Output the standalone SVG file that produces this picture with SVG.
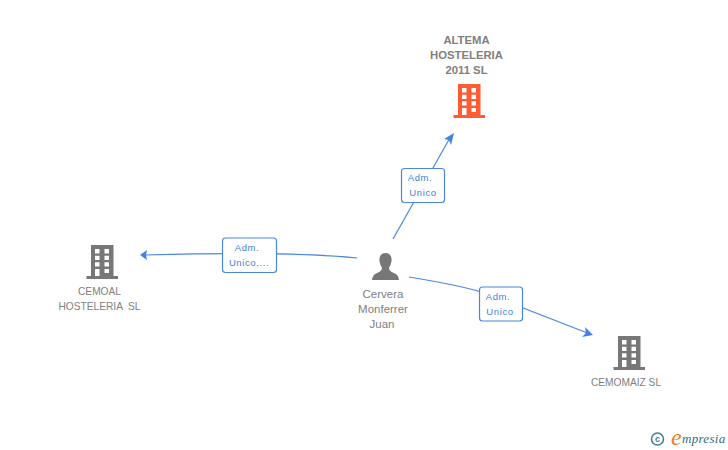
<svg xmlns="http://www.w3.org/2000/svg" width="728" height="450" viewBox="0 0 728 450">
<style>
text{font-family:"Liberation Sans",Arial,sans-serif;font-size:10.200px;fill:#808080;text-anchor:middle}
.b{font-weight:bold;font-size:11.300px}
.p{font-size:11.500px}
.e{fill:none;stroke:#4a86e0;stroke-width:1.200}
.a{fill:#3f82e4}
.l rect{fill:#fff;stroke:#4a86e0;stroke-width:1.200}
.l text{fill:#3f7fdc;font-size:9.500px;letter-spacing:.6px}
.s{font-family:"Liberation Serif",serif;font-style:italic;text-anchor:start}
</style>
<defs>
<g id="bld">
<path d="M4.500 0H27V31H31.500V34H0V31H4.500Z"/>
<path fill="#fff" d="M8.500 4H13V8.500H8.500ZM18 4H22.500V8.500H18ZM8.500 10.700H13V15H8.500ZM18 10.700H22.500V15H18ZM8.500 17.300H13V21.500H8.500ZM18 17.300H22.500V21.500H18ZM8.500 24H13V31H8.500ZM18 24H22.500V28H18Z"/>
</g>
</defs>
<rect width="728" height="450" fill="#fff"/>
<g id="connectors">
<path class="e" d="M393 239L451 136"/>
<path class="a" d="M454 133L444 139L449 140L451 145Z"/>
<path class="e" d="M357 258Q290 251 145 255"/>
<path class="a" d="M140 255L147 250L146 255L147 260Z"/>
<path class="e" d="M409 277Q470 287 490 295L590 334"/>
<path class="a" d="M593 335L585 327L586 333L582 337Z"/>
</g>
<g id="n1"><use href="#bld" x="453.500" y="84" fill="#ff5c33"/>
<text class="b" x="466.500" y="44">ALTEMA</text><text class="b" x="466.500" y="59">HOSTELERIA</text><text class="b" x="466.500" y="74">2011 SL</text></g>
<g id="n2"><use href="#bld" x="86.500" y="245" fill="#777"/>
<text x="99.500" y="295">CEMOAL</text><text x="99.500" y="310" xml:space="preserve">HOSTELERIA  SL</text></g>
<g id="n3"><use href="#bld" x="613.500" y="336" fill="#777"/>
<text x="626" y="386">CEMOMAIZ SL</text></g>
<g id="n4">
<path fill="#777" d="M385.500 253C380.500 253 379 257.500 379.500 261C380 264 381 266 382 268C382 271 379 272 376 273.500C373 275 372.500 277 372 280H399C398.500 277 398 275 395 273.500C392 272 389 271 389 268C390 266 391 264 391.500 261C392 257.500 390.500 253 385.500 253Z"/>
<text class="p" x="383" y="298">Cervera</text><text class="p" x="383" y="313">Monferrer</text><text class="p" x="382" y="328">Juan</text></g>
<g id="l1" class="l"><rect x="401.500" y="168.500" width="43" height="34" rx="3"/><text x="420" y="181">Adm.</text><text x="423" y="196">Unico</text></g>
<g id="l2" class="l"><rect x="222.500" y="238" width="54" height="34.500" rx="3"/><text x="247" y="251">Adm.</text><text x="249" y="266">Unico,...</text></g>
<g id="l3" class="l"><rect x="479.500" y="287" width="43" height="34" rx="3"/><text x="498" y="300">Adm.</text><text x="500" y="315">Unico</text></g>
<g id="logo">
<circle cx="657.500" cy="439" r="6" fill="none" stroke="#3f7f94" stroke-width="1.500"/>
<text x="657.500" y="442" style="font-size:9px;font-weight:bold;fill:#3f7f94">c</text>
<text class="s" x="671" y="445" style="font-size:24px;fill:#f08020">e</text>
<text class="s" x="682" y="443" style="font-size:13px;letter-spacing:.3px;fill:#2f6f80">mpresia</text>
</g>
</svg>
